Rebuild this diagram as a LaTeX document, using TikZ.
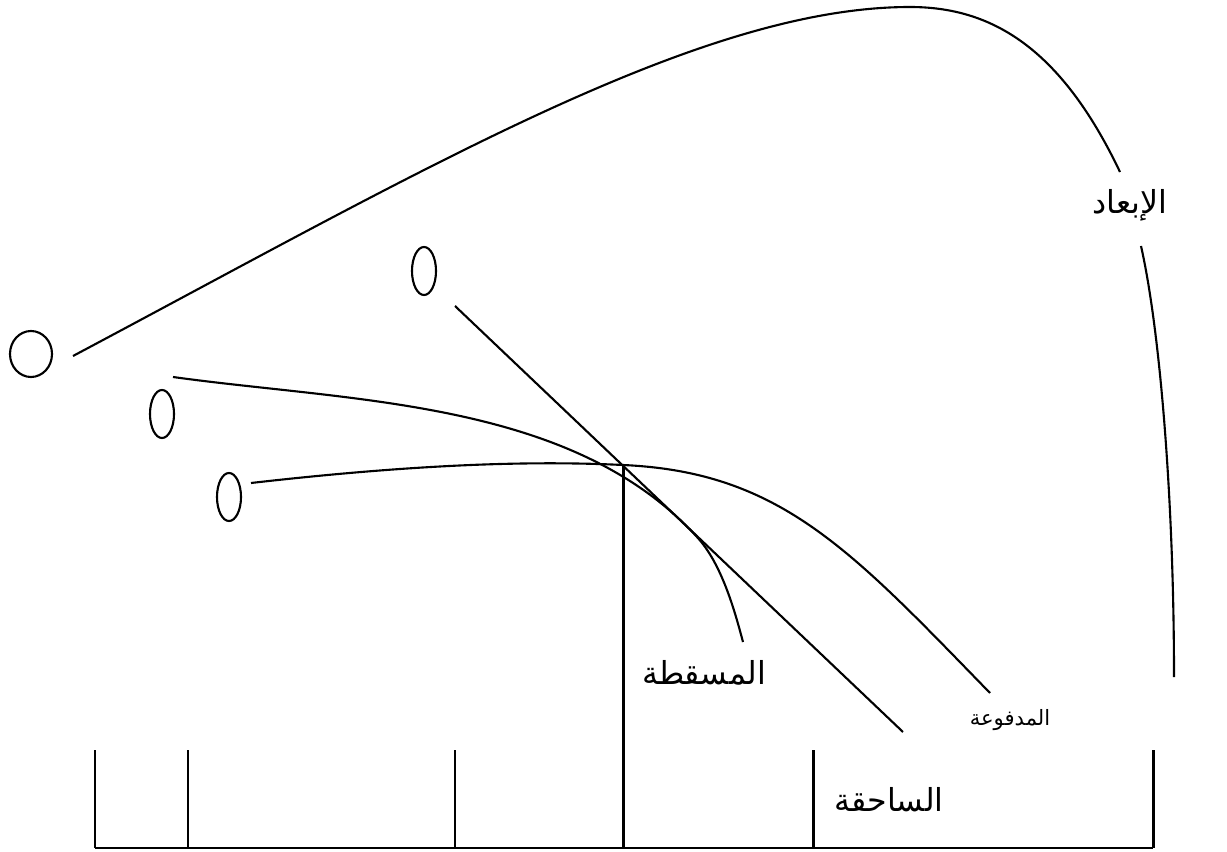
\documentclass[tikz,border=0pt]{standalone}
\usepackage{fontspec}
\newfontfamily\arabicfont[Script=Arabic]{DejaVu Sans}
\TeXXeTstate=1
\usetikzlibrary{shapes.geometric}

\begin{document}
\begin{tikzpicture}[
  x=0.01cm, y=-0.01cm,
  ball/.style={ellipse, draw, semithick, inner sep=0pt,
               minimum width=0.24cm, minimum height=0.48cm},
  lbl/.style={font=\arabicfont\fontsize{9}{10}\selectfont, inner sep=0pt},
  traj/.style={semithick},
  court/.style={line width=0.85pt}
]
\useasboundingbox (0,0) rectangle (1227,852);

% balls
\node[ball, minimum width=0.42cm, minimum height=0.46cm] (b1) at (31,354) {};
\node[ball] (b2) at (162,414) {};
\node[ball] (b3) at (229,497) {};
\node[ball] (b4) at (424,271) {};

% labels
\node[lbl] (ibaad) at (1130,205) {\beginR الإبعاد\endR};
\node[lbl] (musqita) at (704,673) {\beginR المسقطة\endR};
\node[lbl, font=\arabicfont\fontsize{6}{7}\selectfont] (madfua) at (1010,720) {\beginR المدفوعة\endR};
\node[lbl] (sahiqa) at (889,800) {\beginR الساحقة\endR};

% ends of the trajectories
\coordinate (s1) at (73,356);
\coordinate (top) at (910,7);
\coordinate (e1) at (1120,172);
\coordinate (s1b) at (1141,246);
\coordinate (e1b) at (1174,677);
\coordinate (s2) at (173,377);
\coordinate (m2) at (697,537);
\coordinate (e2) at (743,642);
\coordinate (s3) at (251,483);
\coordinate (m3) at (623,465);
\coordinate (e3) at (990,693);
\coordinate (s4) at (455,306);
\coordinate (e4) at (903,732);

% trajectories
\draw[traj] (s1) .. controls (423,170) and (700,7) .. (top)
            .. controls (990,7) and (1060,46) .. (e1);
\draw[traj] (s1b) .. controls (1160,330) and (1174,500) .. (e1b);
\draw[traj] (s2) .. controls (353,402) and (572,400) .. (m2)
            .. controls (722,564) and (735,612) .. (e2);
\draw[traj] (s3) .. controls (400,466) and (520,460) .. (m3)
            .. controls (780,472) and (850,549) .. (e3);
\draw[traj] (s4) -- (e4);

% court
\coordinate (c0) at (95,848);
\coordinate (c5) at (1153,848);
\draw[court] (c0) -- (c5);
\foreach \x in {95,188,455,813,1153}
  \draw[court] (\x,750) -- (\x,848);
\draw[court] (m3 |- c0) -- (m3);

\end{tikzpicture}
\end{document}
